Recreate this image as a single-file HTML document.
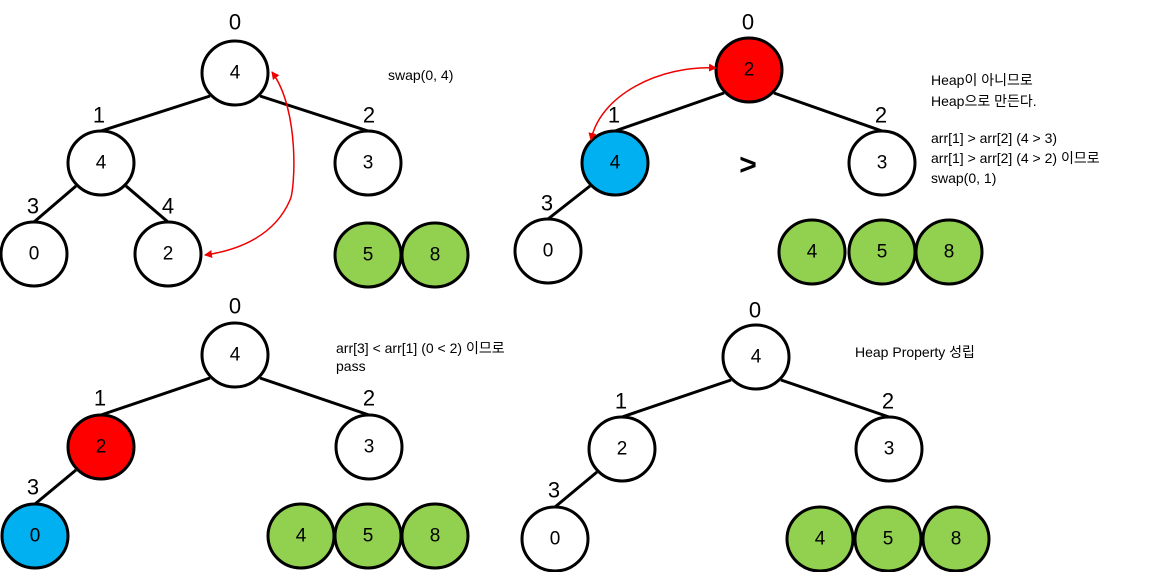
<!DOCTYPE html>
<html><head><meta charset="utf-8"><style>
body{margin:0;background:#fff;}
svg{display:block;}
text{font-family:"Liberation Sans","Noto Sans CJK KR",sans-serif;}
.n{stroke:#000;stroke-width:3;}
.t{font-size:19px;text-anchor:middle;dominant-baseline:central;}
.l{font-size:22px;text-anchor:middle;dominant-baseline:central;}
.s{font-size:14px;}
.e{stroke:#000;stroke-width:3;}
</style></head><body>
<svg width="1157" height="572" viewBox="0 0 1157 572">
<defs><marker id="a" markerWidth="8" markerHeight="8" refX="7" refY="4" orient="auto-start-reverse" markerUnits="userSpaceOnUse"><path d="M0,0L8,4L0,8z" fill="#e00"/></marker></defs>
<!-- Q1 -->
<line class="e" x1="210" y1="96" x2="101" y2="131"/><line class="e" x1="260" y1="96" x2="368" y2="131"/>
<line class="e" x1="76" y1="186" x2="34" y2="222"/><line class="e" x1="126" y1="186" x2="168" y2="222"/>
<g class="n" fill="#fff">
<ellipse cx="235" cy="73" rx="33" ry="32"/><ellipse cx="101" cy="163" rx="33" ry="32"/><ellipse cx="368" cy="163" rx="33" ry="32"/>
<ellipse cx="34" cy="254" rx="33" ry="32"/><ellipse cx="168" cy="254" rx="33" ry="32"/></g>
<g class="n" fill="#92d050"><ellipse cx="368" cy="255" rx="33" ry="32"/><ellipse cx="435" cy="255" rx="33" ry="32"/></g>
<g class="t"><text x="235" y="73">4</text><text x="101" y="163">4</text><text x="368" y="163">3</text><text x="34" y="254">0</text><text x="168" y="254">2</text><text x="368" y="255">5</text><text x="435" y="255">8</text></g>
<g class="l"><text x="235" y="22">0</text><text x="99" y="115">1</text><text x="369" y="115">2</text><text x="33" y="206">3</text><text x="168" y="206">4</text></g>
<path d="M272,72 C300,110 295,190 290,200 C275,235 240,250 205,255" fill="none" stroke="#e00" stroke-width="1.5" marker-start="url(#a)" marker-end="url(#a)"/>
<text class="s" x="388" y="80">swap(0, 4)</text>
<!-- Q2 -->
<line class="e" x1="724" y1="93" x2="615" y2="131"/><line class="e" x1="774" y1="93" x2="882" y2="131"/>
<line class="e" x1="590" y1="186" x2="548" y2="219"/>
<ellipse class="n" cx="749" cy="70" rx="33" ry="32" fill="#ff0000"/>
<ellipse class="n" cx="615" cy="163" rx="33" ry="32" fill="#00b0f0"/>
<ellipse class="n" cx="882" cy="163" rx="33" ry="32" fill="#fff"/>
<ellipse class="n" cx="548" cy="251" rx="33" ry="32" fill="#fff"/>
<g class="n" fill="#92d050"><ellipse cx="812" cy="252" rx="33" ry="32"/><ellipse cx="882" cy="252" rx="33" ry="32"/><ellipse cx="949" cy="252" rx="33" ry="32"/></g>
<g class="t"><text x="749" y="70">2</text><text x="615" y="163">4</text><text x="882" y="163">3</text><text x="548" y="251">0</text><text x="812" y="252">4</text><text x="882" y="252">5</text><text x="949" y="252">8</text></g>
<g class="l"><text x="748" y="22">0</text><text x="614" y="115">1</text><text x="881" y="115">2</text><text x="547" y="203">3</text></g>
<text x="748" y="165" class="l" style="font-weight:bold;font-size:30px">&gt;</text>
<path d="M716,68 C660,65 600,95 591,140" fill="none" stroke="#e00" stroke-width="1.5" marker-start="url(#a)" marker-end="url(#a)"/>
<g class="s"><text x="931" y="85">Heap이 아니므로</text><text x="931" y="106">Heap으로 만든다.</text><text x="931" y="143">arr[1] &gt; arr[2] (4 &gt; 3)</text><text x="931" y="163">arr[1] &gt; arr[2] (4 &gt; 2) 이므로</text><text x="931" y="183">swap(0, 1)</text></g>
<!-- Q3 -->
<line class="e" x1="210" y1="378" x2="101" y2="415"/><line class="e" x1="260" y1="378" x2="369" y2="415"/>
<line class="e" x1="76" y1="470" x2="35" y2="504"/>
<ellipse class="n" cx="235" cy="355" rx="33" ry="32" fill="#fff"/>
<ellipse class="n" cx="101" cy="447" rx="33" ry="32" fill="#ff0000"/>
<ellipse class="n" cx="369" cy="447" rx="33" ry="32" fill="#fff"/>
<ellipse class="n" cx="35" cy="536" rx="33" ry="32" fill="#00b0f0"/>
<g class="n" fill="#92d050"><ellipse cx="301" cy="536" rx="33" ry="32"/><ellipse cx="368" cy="536" rx="33" ry="32"/><ellipse cx="435" cy="536" rx="33" ry="32"/></g>
<g class="t"><text x="235" y="355">4</text><text x="101" y="447">2</text><text x="369" y="447">3</text><text x="35" y="536">0</text><text x="301" y="536">4</text><text x="368" y="536">5</text><text x="435" y="536">8</text></g>
<g class="l"><text x="235" y="306">0</text><text x="100" y="398">1</text><text x="369" y="398">2</text><text x="33" y="487">3</text></g>
<g class="s"><text x="336" y="353">arr[3] &lt; arr[1] (0 &lt; 2) 이므로</text><text x="336" y="371">pass</text></g>
<!-- Q4 -->
<line class="e" x1="731" y1="380" x2="622" y2="417"/><line class="e" x1="781" y1="380" x2="889" y2="417"/>
<line class="e" x1="597" y1="472" x2="555" y2="507"/>
<g class="n" fill="#fff"><ellipse cx="756" cy="357" rx="33" ry="32"/><ellipse cx="622" cy="449" rx="33" ry="32"/><ellipse cx="889" cy="449" rx="33" ry="32"/><ellipse cx="555" cy="539" rx="33" ry="32"/></g>
<g class="n" fill="#92d050"><ellipse cx="820" cy="539" rx="33" ry="32"/><ellipse cx="888" cy="539" rx="33" ry="32"/><ellipse cx="956" cy="539" rx="33" ry="32"/></g>
<g class="t"><text x="756" y="357">4</text><text x="622" y="449">2</text><text x="889" y="449">3</text><text x="555" y="539">0</text><text x="820" y="539">4</text><text x="888" y="539">5</text><text x="956" y="539">8</text></g>
<g class="l"><text x="755" y="310">0</text><text x="621" y="401">1</text><text x="888" y="401">2</text><text x="554" y="490">3</text></g>
<text class="s" x="855" y="357">Heap Property 성립</text>
</svg>
</body></html>
